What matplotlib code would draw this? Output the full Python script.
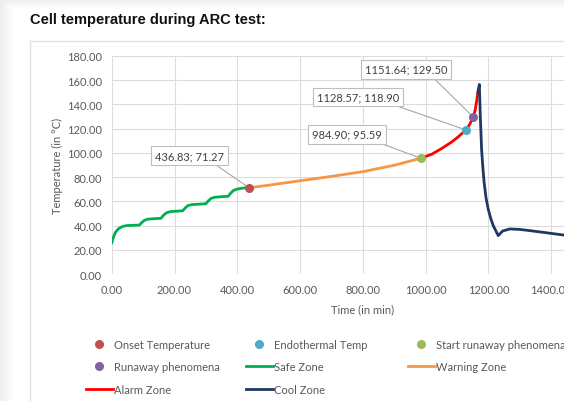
import matplotlib
matplotlib.use("Agg")
import matplotlib.pyplot as plt
from matplotlib.lines import Line2D
from matplotlib.patches import Rectangle
import numpy as np

plt.rcParams['font.family'] = ['Lato', 'DejaVu Sans']

# ---- data ----
safe_x = [0, 5, 12, 22, 35, 48, 88, 96, 104, 115, 157, 165, 174, 186, 226, 234, 243, 255,
          300, 308, 317, 329, 371, 379, 388, 401, 420, 436.83]
safe_y = [25.4, 30.0, 34.5, 37.5, 39.3, 40.0, 40.4, 42.5, 44.3, 45.3, 46.0, 48.5, 50.5, 51.5,
          52.2, 54.5, 56.5, 57.3, 58.0, 60.5, 62.5, 63.4, 64.2, 66.8, 69.0, 70.2, 71.0, 71.27]

warn_x = [436.83, 500, 600, 700, 800, 900, 984.90]
warn_y = [71.27, 73.3, 77.0, 80.6, 84.5, 89.8, 95.59]

alarm_x = [984.90, 1020, 1050, 1080, 1100, 1128.57, 1140, 1151.64, 1158, 1163, 1166]
alarm_y = [95.59, 99.0, 103.5, 108.5, 112.5, 118.90, 123.5, 129.50, 136.0, 144.0, 150.0]

cool_x = [1166, 1170.8, 1174, 1178, 1182, 1186, 1192, 1199, 1207, 1215, 1231, 1245, 1268,
          1300, 1332, 1380, 1438, 1500]
cool_y = [150.0, 156.5, 130.0, 103.0, 88.0, 75.8, 63.0, 53.7, 46.0, 40.0, 31.7, 35.5, 37.2,
          36.8, 35.8, 34.2, 32.2, 30.8]

point_names = ['Onset Temperature', 'Endothermal Temp', 'Start runaway phenomena', 'Runaway phenomena']
point_x = [436.83, 1128.57, 984.90, 1151.64]
point_y = [71.27, 118.90, 95.59, 129.50]
point_colors = ['#C0504D', '#4BACC6', '#9BBB59', '#8064A2']
# label box offsets (pixels) and where the leader leaves the box
label_offsets = [(-59, 32), (-108, 33), (-74, 24), (-67, 48)]
label_relpos = [(0.8, 0.0), (0.85, 0.0), (0.84, 0.0), (0.79, 0.0)]

zone_names = ['Safe Zone', 'Warning Zone', 'Alarm Zone', 'Cool Zone']
zone_colors = ['#00B050', '#F79646', '#FF0000', '#203864']

x_ticks = np.arange(0, 1601, 200)
y_ticks = np.arange(0, 181, 20)

W, H = 564, 402
fig = plt.figure(figsize=(W / 100, H / 100), dpi=100)

# page background / card
bg = fig.add_axes([0, 0, 1, 1], zorder=-10)
bg.axis('off')
bg.set_xlim(0, W)
bg.set_ylim(H, 0)
grad = np.ones((H, W))
grad = np.minimum(grad, 0.93 + 0.07 * np.clip(np.arange(W) / 14.0, 0, 1)[None, :])
grad = np.minimum(grad, 0.93 + 0.07 * np.clip(np.arange(H) / 10.0, 0, 1)[:, None])
bg.imshow(grad, cmap='gray', vmin=0, vmax=1, extent=[0, W, H, 0], aspect='auto')
bg.add_patch(Rectangle((30, 42), 600, 400, facecolor='white', edgecolor='#E3E3E3', lw=1))

fig.text(30 / W, 1 - 20 / H, 'Cell temperature during ARC test:', fontsize=10.5,
         fontweight='bold', family='Liberation Sans', va='center', ha='left', color='#111111')

ax = fig.add_axes([111.7 / W, 1 - 275 / H, 502.4 / W, 218 / H])
ax.set_facecolor('none')
for s in ax.spines.values():
    s.set_visible(False)
ax.set_xlim(0, 1600)
ax.set_ylim(0, 180)
ax.set_xticks(x_ticks)
ax.set_yticks(y_ticks)
ax.set_xticklabels([f'{v:.2f}' for v in x_ticks])
ax.set_yticklabels([f'{v:.2f}' for v in y_ticks])
ax.tick_params(length=0, labelsize=8, colors='#595959', pad=7)
ax.grid(True, color='#DDDDDD', lw=0.8)
ax.set_axisbelow(True)
ax.set_xlabel('Time (in min)', fontsize=8, color='#595959', labelpad=6)
ax.set_ylabel('Temperature (in °C)', fontsize=8, color='#595959', labelpad=3)

for xs, ys, c in zip([safe_x, warn_x, alarm_x, cool_x], [safe_y, warn_y, alarm_y, cool_y], zone_colors):
    ax.plot(xs, ys, color=c, lw=2, solid_capstyle='round', solid_joinstyle='round')

for i in range(len(point_x)):
    ax.plot(point_x[i], point_y[i], 'o', color=point_colors[i], ms=5.5, zorder=5)
    ax.annotate(f'{point_x[i]:.2f}; {point_y[i]:.2f}', (point_x[i], point_y[i]),
                xytext=label_offsets[i], textcoords='offset pixels', ha='center', va='center',
                fontsize=8, color='#404040',
                bbox=dict(boxstyle='square,pad=0.35', fc='white', ec='#BFBFBF', lw=0.8),
                arrowprops=dict(arrowstyle='-', color='#A6A6A6', lw=0.8,
                                relpos=label_relpos[i], shrinkA=0, shrinkB=2))

# legend, laid out in three columns like the original
mk = lambda c: Line2D([], [], ls='none', marker='o', color=c, ms=5.5)
ln = lambda c: Line2D([], [], color=c, lw=2)
columns = [
    ([mk(point_colors[0]), mk(point_colors[3]), ln(zone_colors[2])],
     [point_names[0], point_names[3], zone_names[2]], 86),
    ([mk(point_colors[1]), ln(zone_colors[0]), ln(zone_colors[3])],
     [point_names[1], zone_names[0], zone_names[3]], 246),
    ([mk(point_colors[2]), ln(zone_colors[1])],
     [point_names[2], zone_names[1]], 408),
]
for handles, labels, x0 in columns:
    fig.legend(handles, labels, loc='upper left', bbox_to_anchor=(x0 / W, 1 - 340 / H),
               frameon=False, fontsize=8, labelcolor='#595959', handlelength=2.4,
               handletextpad=0.1, labelspacing=1.02, borderpad=0, borderaxespad=0)

fig.savefig('out.png', dpi=100)
